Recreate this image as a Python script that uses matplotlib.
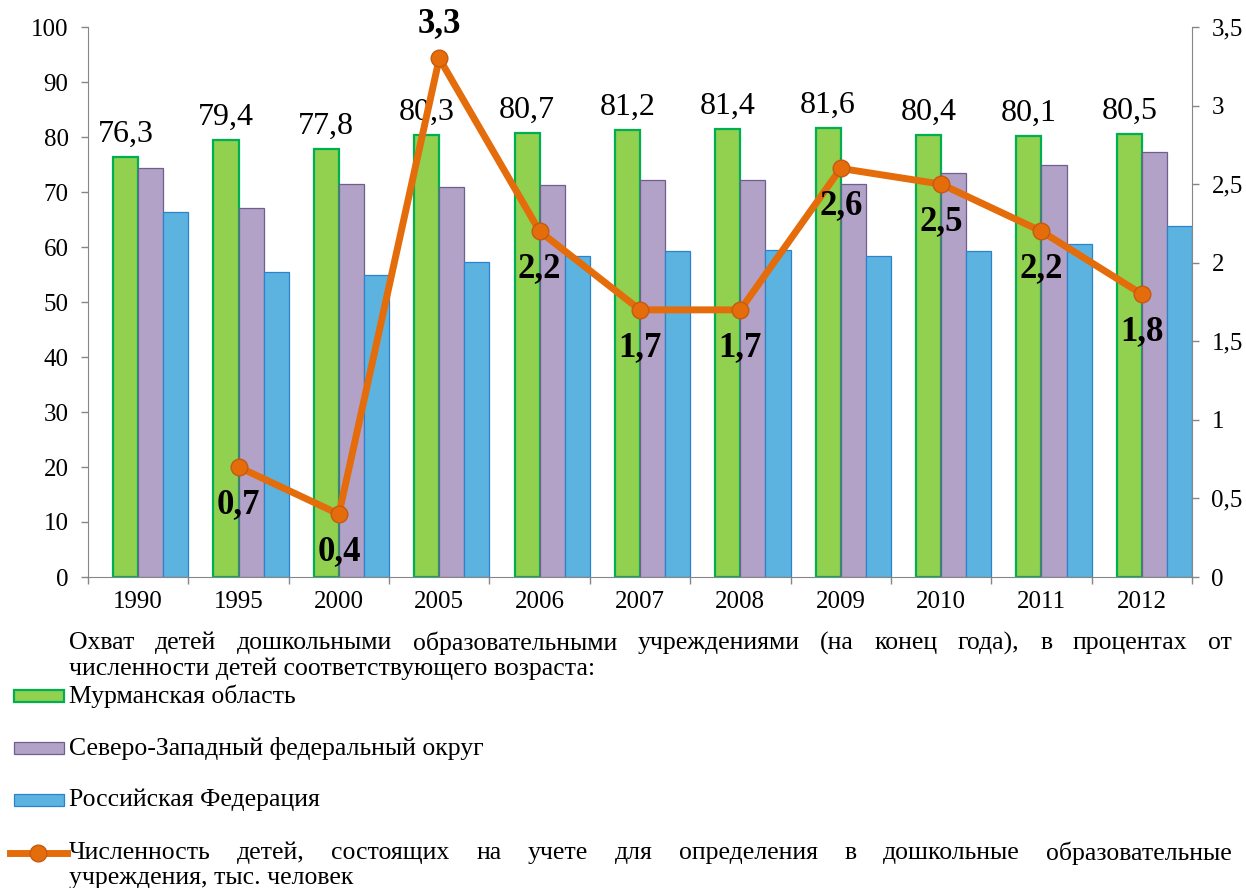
import numpy as np
import matplotlib
matplotlib.use('Agg')
import matplotlib.pyplot as plt
from matplotlib.patches import Rectangle
from matplotlib.lines import Line2D
from matplotlib.ticker import FuncFormatter

plt.rcParams['font.family'] = ['Liberation Serif', 'DejaVu Serif']

# data
years = ['1990', '1995', '2000', '2005', '2006', '2007', '2008', '2009', '2010', '2011', '2012']
murmansk = [76.3, 79.4, 77.8, 80.3, 80.7, 81.2, 81.4, 81.6, 80.4, 80.1, 80.5]
szfo = [74.3, 67.1, 71.5, 71.0, 71.2, 72.1, 72.1, 71.4, 73.5, 75.0, 77.2]
russia = [66.4, 55.5, 54.9, 57.3, 58.3, 59.2, 59.4, 58.4, 59.2, 60.6, 63.8]
queue = [np.nan, 0.7, 0.4, 3.3, 2.2, 1.7, 1.7, 2.6, 2.5, 2.2, 1.8]

heading_1 = 'Охват детей дошкольными образовательными учреждениями (на конец года), в процентах от'
heading_2 = 'численности детей соответствующего возраста:'
name_murmansk = 'Мурманская область'
name_szfo = 'Северо-Западный федеральный округ'
name_russia = 'Российская Федерация'
name_queue_1 = 'Численность детей, состоящих на учете для определения в дошкольные образовательные'
name_queue_2 = 'учреждения, тыс. человек'

green_fill, green_edge = '#92D050', '#00B050'
purple_fill, purple_edge = '#B3A2C7', '#6F5F8F'
blue_fill, blue_edge = '#5DB3DF', '#2A83CF'
orange, orange_edge = '#E46C0A', '#C55A11'
axis_color = '#868686'
tick_size = 18
legend_size = 18.5


def comma(v):
    return ('%g' % v).replace('.', ',')


W, H = 1246, 888
fig = plt.figure(figsize=(W / 100, H / 100), dpi=100)
ax = fig.add_axes([88 / W, 1 - 577 / H, (1192 - 88) / W, (577 - 27) / H])

x = np.arange(len(years))
bw = 0.25
ax.bar(x - bw / 2, murmansk, bw, color=green_fill, edgecolor=green_edge, linewidth=1.6)
ax.bar(x + bw / 2, szfo, bw, color=purple_fill, edgecolor=purple_edge, linewidth=0.9)
ax.bar(x + 1.5 * bw, russia, bw, color=blue_fill, edgecolor=blue_edge, linewidth=0.9)

for xi, v in zip(x, murmansk):
    ax.annotate(('%.1f' % v).replace('.', ','), (xi - bw / 2, v), xytext=(0, 11),
                textcoords='offset points', ha='center', va='baseline', fontsize=23)

ax.set_xlim(-0.5, len(years) - 0.5)
ax.set_ylim(0, 100)
ax.set_yticks(range(0, 101, 10))
ax.set_xticks(x)
ax.set_xticklabels(years)
ax.set_xticks(np.arange(-0.5, len(years)), minor=True)
ax.tick_params(axis='x', which='major', length=0, pad=10, labelsize=tick_size)
ax.tick_params(axis='x', which='minor', length=5, width=1, color=axis_color)
ax.tick_params(axis='y', length=5, width=1, color=axis_color, pad=9, labelsize=tick_size)
for s in ['top', 'right']:
    ax.spines[s].set_visible(False)
for s in ['left', 'bottom']:
    ax.spines[s].set_color(axis_color)

ax2 = ax.twinx()
ax2.plot(x, queue, color=orange, linewidth=5, marker='o', markersize=12,
         markerfacecolor=orange, markeredgecolor=orange_edge, markeredgewidth=1)
ax2.set_ylim(0, 3.5)
ax2.set_yticks(np.arange(0, 3.51, 0.5))
ax2.yaxis.set_major_formatter(FuncFormatter(lambda v, p: comma(v)))
ax2.tick_params(axis='y', length=5, width=1, color=axis_color, pad=9, labelsize=tick_size)
for s in ['top', 'left', 'bottom']:
    ax2.spines[s].set_visible(False)
ax2.spines['right'].set_color(axis_color)

peak = int(np.nanargmax(queue))
for i, v in enumerate(queue):
    if np.isnan(v):
        continue
    dy = 19 if i == peak else -33
    ax2.annotate(comma(v), (x[i], v), xytext=(0, dy), textcoords='offset points',
                 ha='center', va='baseline', fontsize=25, fontweight='bold')


# legend block under the chart, drawn in pixel positions
def fy(py):
    return 1 - py / H


def justify(text, x0, x1, py, size=legend_size):
    renderer = fig.canvas.get_renderer()
    words = text.split()
    items = [fig.text(0, fy(py), w, fontsize=size, va='center') for w in words]
    widths = [t.get_window_extent(renderer).width for t in items]
    gap = (x1 - x0 - sum(widths)) / (len(words) - 1)
    pos = x0
    for t, w in zip(items, widths):
        t.set_x(pos / W)
        pos += w + gap


justify(heading_1, 69, 1232, 643)
fig.text(69 / W, fy(669), heading_2, fontsize=legend_size, va='center')

entries = [(name_murmansk, green_fill, green_edge, 1.6, 696),
           (name_szfo, purple_fill, purple_edge, 0.9, 748),
           (name_russia, blue_fill, blue_edge, 0.9, 800)]
for name, fc, ec, lw, py in entries:
    fig.patches.append(Rectangle((14 / W, fy(py + 6)), 50 / W, 12 / H, transform=fig.transFigure,
                                 facecolor=fc, edgecolor=ec, linewidth=lw))
    fig.text(69 / W, fy(py), name, fontsize=legend_size, va='center')

fig.lines.append(Line2D([10 / W, 67 / W], [fy(853), fy(853)], transform=fig.transFigure,
                        color=orange, linewidth=5))
fig.lines.append(Line2D([38 / W], [fy(853)], transform=fig.transFigure, marker='o',
                        markersize=12, markerfacecolor=orange, markeredgecolor=orange_edge,
                        markeredgewidth=1, linestyle='none'))
justify(name_queue_1, 69, 1232, 853)
fig.text(69 / W, fy(878), name_queue_2, fontsize=legend_size, va='center')

fig.savefig('out.png', dpi=100)
